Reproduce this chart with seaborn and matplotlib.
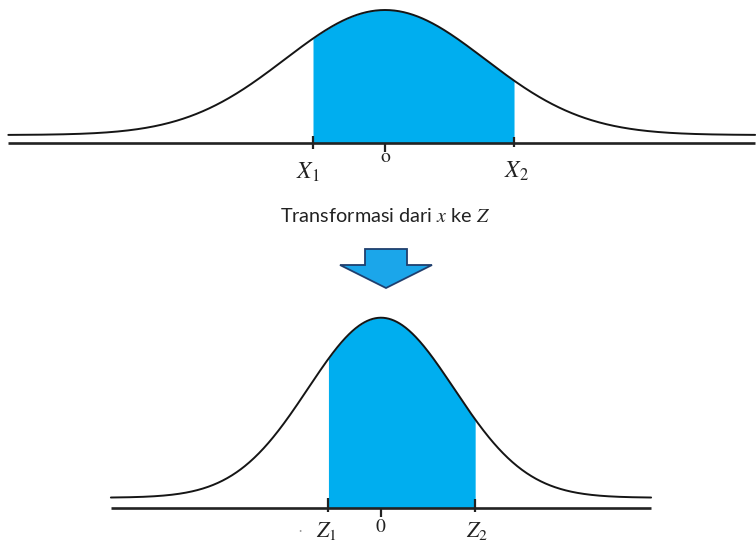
import numpy as np
import pandas as pd
import matplotlib
matplotlib.use("Agg")
import matplotlib.pyplot as plt
from matplotlib.patches import Polygon
import seaborn as sns

# --- values -------------------------------------------------------------
# standardised bounds of the shaded interval
z_bounds = [-0.72, 1.29]
# original variable x: mean and standard deviation (same units as z axis)
x_mean, x_sd = 0.0, 1.37
# standard normal Z
z_mean, z_sd = 0.0, 1.0
# extent of each drawn curve
x_range = [-5.16, 5.07]
z_range = [-3.70, 3.70]
# tick labels
x_labels = ["$X_1$", "o", "$X_2$"]
z_labels = ["$Z_1$", "$0$", "$Z_2$"]
caption = "Transformasi dari $x$ ke $Z$"

# --- style --------------------------------------------------------------
W, H = 756, 543
sns.set_theme(style="white")
plt.rcParams["font.family"] = ["Lato", "DejaVu Sans"]
plt.rcParams["mathtext.fontset"] = "stix"

FILL = "#00AEEF"
INK = "#151515"


def normal_pdf(v, m, s):
    return np.exp(-0.5 * ((v - m) / s) ** 2) / (s * np.sqrt(2 * np.pi))


def px_axes(fig, x0, y0, x1, y1):
    ax = fig.add_axes([x0 / W, 1 - y1 / H, (x1 - x0) / W, (y1 - y0) / H])
    ax.set_axis_off()
    return ax


def panel(ax, mean, sd, rng, labels, gap_px, ticks_px, label_dx, label_dy,
          sizes, xlim, ylim, box_h):
    ax.set_xlim(*xlim)
    ax.set_ylim(*ylim)
    per_px = (ylim[1] - ylim[0]) / box_h
    per_px_x = (xlim[1] - xlim[0]) / W
    base = -gap_px * per_px

    grid = np.linspace(rng[0], rng[1], 800)
    df = pd.DataFrame({"v": grid, "d": normal_pdf(grid, mean, sd)})

    lo, hi = mean + sd * z_bounds[0], mean + sd * z_bounds[1]
    shade = np.linspace(lo, hi, 400)
    ax.fill_between(shade, base, normal_pdf(shade, mean, sd),
                    color=FILL, lw=0, zorder=1)
    sns.lineplot(data=df, x="v", y="d", ax=ax, color=INK, lw=1.4,
                 zorder=3, legend=False)
    ax.plot([rng[0], rng[1]], [base, base], color="#222222", lw=1.9,
            zorder=2, solid_capstyle="butt")

    for pos, (up, down), lab, dx, dy, fs in zip([lo, mean, hi], ticks_px,
                                               labels, label_dx, label_dy,
                                               sizes):
        ax.plot([pos, pos], [base + up * per_px, base - down * per_px],
                color="#222222", lw=1.6, zorder=4, solid_capstyle="butt")
        ax.text(pos + dx * per_px_x, base - dy * per_px, lab, ha="center",
                va="center", fontsize=fs, color="#222222",
                family="STIXGeneral")
    return base, per_px


fig = plt.figure(figsize=(W / 100, H / 100), dpi=100)
fig.patch.set_facecolor("white")

# upper panel: original variable x
ax_top = px_axes(fig, 0, 0, W, 200)
panel(ax_top, x_mean, x_sd, x_range, x_labels,
      gap_px=7.5, ticks_px=[(6.5, 6.5), (0, 9), (5.5, 4.5)],
      label_dx=[-5, 0, 2], label_dy=[30, 15, 29], sizes=[17, 14, 17],
      xlim=(-5.274, 5.082), ylim=(-0.1514, 0.3145), box_h=200)

# lower panel: standard normal Z
ax_bot = px_axes(fig, 0, 300, W, H)
base, per_px = panel(ax_bot, z_mean, z_sd, z_range, z_labels,
                     gap_px=9.8, ticks_px=[(10, 4), (0, 9), (9, 4)],
                     label_dx=[-2, 0, 2], label_dy=[23, 20, 23],
                     sizes=[16, 14, 16],
                     xlim=(-5.219, 5.137), ylim=(-0.1004, 0.4382), box_h=243)
ax_bot.text(-1.11, base - 23 * per_px, "\u00b7", ha="center", va="center",
            fontsize=9, color="#9a9a9a")

# caption and transformation arrow
ax_mid = px_axes(fig, 0, 0, W, H)
ax_mid.set_xlim(0, W)
ax_mid.set_ylim(H, 0)
ax_mid.text(385, 216, caption, ha="center", va="center", fontsize=14.3,
            color="#222222")
arrow = Polygon([(365, 249), (407, 249), (407, 265), (432, 265), (386, 288),
                 (340, 265), (365, 265)], closed=True, facecolor="#1BA6EA",
                edgecolor="#1F3F6E", lw=1.3)
ax_mid.add_patch(arrow)

fig.savefig("out.png", dpi=100, facecolor="white")
